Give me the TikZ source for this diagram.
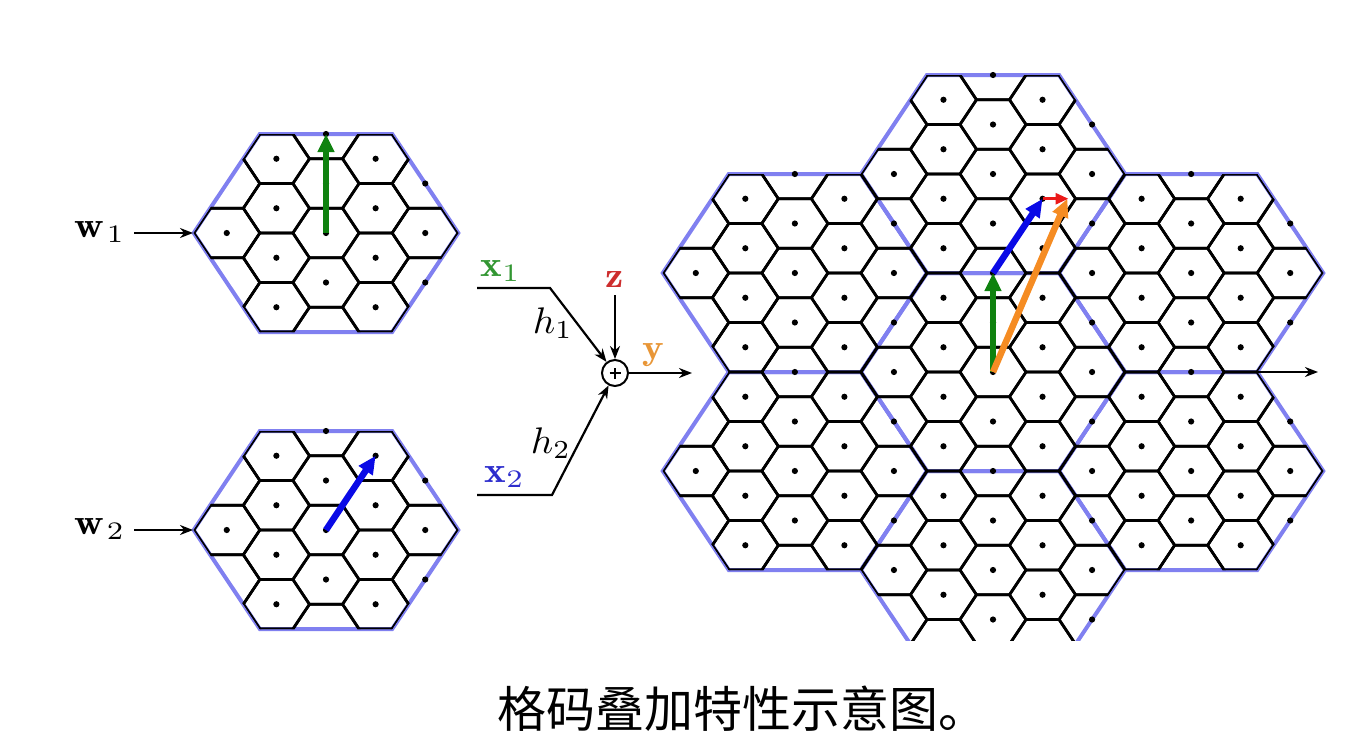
\documentclass[tikz,border=0pt]{standalone}
\usepackage{fontspec}
\newfontfamily\cjk{Noto Sans CJK SC}
\usetikzlibrary{arrows.meta}
\definecolor{hexblue}{RGB}{128,128,240}
\definecolor{vgreen}{RGB}{15,130,15}
\definecolor{vblue}{RGB}{10,10,230}
\definecolor{vorange}{RGB}{245,140,35}
\definecolor{vred}{RGB}{235,25,25}
\definecolor{lgreen}{RGB}{50,150,50}
\definecolor{lblue}{RGB}{45,45,205}
\definecolor{lred}{RGB}{205,45,45}
\definecolor{lorange}{RGB}{232,150,55}
\tikzset{
  cell/.style={line width=2.7pt, black},
  outline/.style={line width=4pt, hexblue},
  vec/.style={line width=6.5pt, -{Triangle[length=18pt,width=16pt]}},
  smallvec/.style={line width=2.8pt, -{Triangle[length=13pt,width=11pt]}},
  conn/.style={line width=2.2pt, -{Stealth[length=13pt,width=10pt]}},
  lab/.style={inner sep=0pt, xscale=4.1, yscale=3.6},
  hlab/.style={inner sep=0pt, xscale=3.9, yscale=3.7},
  sumnode/.style={circle, draw, line width=2pt, minimum size=26pt, inner sep=0pt},
}
\newcommand\modoutline{%
  \draw[outline] (2.3094,0) -- (1.1547,2) -- (-1.1547,2) -- (-2.3094,0) -- (-1.1547,-2) -- (1.1547,-2) -- cycle;}
\newcommand\modcells{%
  \begin{scope}
    \clip (2.3094,0) -- (1.1547,2) -- (-1.1547,2) -- (-2.3094,0) -- (-1.1547,-2) -- (1.1547,-2) -- cycle;
    \foreach \j in {-3,...,3}{
      \foreach \i in {-3,...,3}{
        \draw[cell, shift={({0.866025*\j},{\i+0.5*\j})}] (0.57735,0) -- (0.288675,0.5) -- (-0.288675,0.5) -- (-0.57735,0) -- (-0.288675,-0.5) -- (0.288675,-0.5) -- cycle;
      }}
  \end{scope}}
\newcommand\moddots{%
  \foreach \u/\v in {0/0,0/1,0/-1,0/2,0.866/-1.5,0.866/-0.5,0.866/0.5,0.866/1.5,-0.866/-1.5,-0.866/-0.5,-0.866/0.5,-0.866/1.5,1.732/0,-1.732/0,1.732/1,1.732/-1}{
    \fill (\u,\v) circle[radius=3.1pt];}}
\begin{document}
\begin{tikzpicture}[x=1pt,y=-1pt]
\useasboundingbox (0,0) rectangle (1365,747);

% ---- small module 1 ----
\begin{scope}[shift={(326,233)}, x=57.3pt, y=49.5pt]
  \modoutline
  \modcells
  \moddots
  \draw[vec, vgreen] (0,0) -- (0,2);
\end{scope}
% ---- small module 2 ----
\begin{scope}[shift={(326,530)}, x=57.3pt, y=49.5pt]
  \modoutline
  \modcells
  \moddots
  \draw[vec, vblue] (0,0) -- (0.866,1.5);
\end{scope}

% ---- inputs ----
\coordinate (m1L) at (193,233);
\coordinate (m2L) at (193,530);
\node[lab, anchor=base west] (w1) at (74,237) {$\mathbf{w}_{\kern0.6pt 1}$};
\node[lab, anchor=base west] (w2) at (74,534) {$\mathbf{w}_{\kern0.6pt 2}$};
\draw[conn, shorten <=8pt] (w1.east |- m1L) -- (m1L);
\draw[conn, shorten <=8pt] (w2.east |- m2L) -- (m2L);

% ---- combiner ----
\node[sumnode] (sum) at (615,373) {};
\draw[line width=1.8pt] ([xshift=-5.5pt]sum.center) -- ([xshift=5.5pt]sum.center)
                        ([yshift=-5.5pt]sum.center) -- ([yshift=5.5pt]sum.center);
\node[lab, anchor=base west, text=lgreen] (x1) at (480,276) {$\mathbf{x}_1$};
\node[lab, anchor=base west, text=lblue] (x2) at (484,482) {$\mathbf{x}_2$};
\node[lab, anchor=base, text=lred] (z) at (615,287) {$\mathbf{z}$};
\node[lab, anchor=base, text=lorange] (y) at (653,359) {$\mathbf{y}$};
\node[hlab, anchor=base west] (h1) at (532,333) {$h_1$};
\node[hlab, anchor=base west] (h2) at (530,453) {$h_2$};
\coordinate (x1s) at (477,288);
\coordinate (x1k) at (550,288);
\coordinate (x2s) at (477,495);
\coordinate (x2k) at (552,495);
\draw[conn, line join=miter] (x1s) -- (x1k) -- (sum);
\draw[conn, line join=miter] (x2s) -- (x2k) -- (sum);
\draw[conn, shorten <=5pt] (z.south |- 0,290) -- (sum);
\coordinate (yend) at (692,373);
\draw[conn] (sum) -- (yend);

% ---- superposed modules ----
\begin{scope}
  \clip (600,0) rectangle (1365,640);
  \begin{scope}[shift={(993,372)}, x=57.2pt, y=49.5pt]
    \foreach \cx/\cy in {0/0,0/4,0/-4,3.4641/2,3.4641/-2,-3.4641/2,-3.4641/-2}{
      \begin{scope}[shift={(\cx,\cy)}]\modoutline\end{scope}}
    \foreach \cx/\cy in {0/0,0/4,0/-4,3.4641/2,3.4641/-2,-3.4641/2,-3.4641/-2}{
      \begin{scope}[shift={(\cx,\cy)}]\modcells\moddots\end{scope}}
    \draw[vec, vgreen] (0,0) -- (0,2);
    \draw[vec, vblue] (0,2) -- (0.866,3.5);
    \draw[vec, vorange] (0,0) -- (1.3,3.5);
    \draw[smallvec, vred] (0.866,3.5) -- (1.32,3.5);
  \end{scope}
\end{scope}
\coordinate (ax0) at (1258,372);
\coordinate (ax1) at (1318,372);
\draw[conn] (ax0) -- (ax1);

% ---- caption ----
\node[anchor=base west, inner sep=0pt, font=\cjk\fontsize{49}{55}\selectfont] (cap) at (497,727) {格码叠加特性示意图。};
\end{tikzpicture}
\end{document}
